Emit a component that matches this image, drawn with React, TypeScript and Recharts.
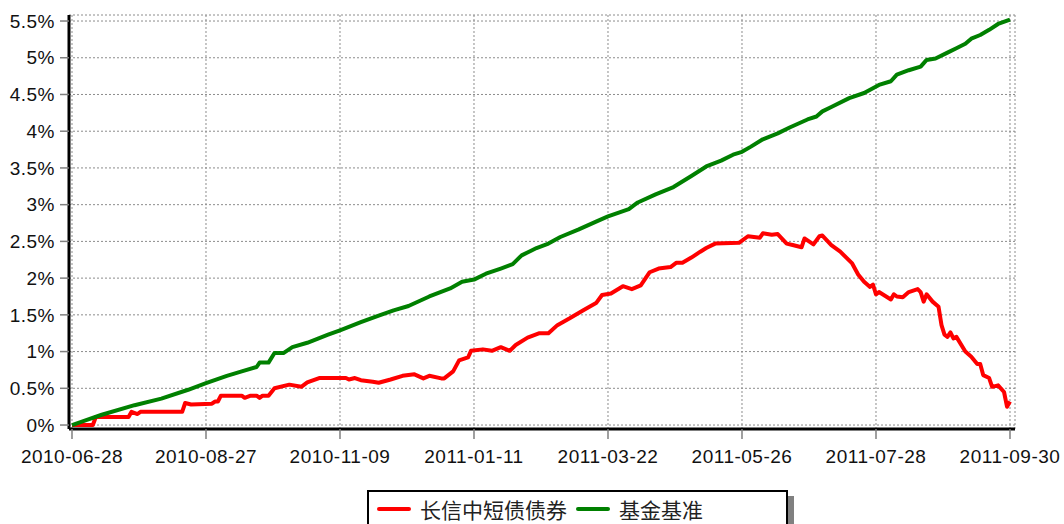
import { LineChart, Line, XAxis, YAxis, CartesianGrid, Legend } from "recharts";

// trading-day index (0 = 2010-06-28, 315 = 2011-09-30)
const dateLabels = [
  "2010-06-28", "2010-08-27", "2010-11-09", "2011-01-11",
  "2011-03-22", "2011-05-26", "2011-07-28", "2011-09-30",
];
const dateTicks = [0, 45, 90, 135, 180, 225, 270, 315];

const yTicks = [0, 0.5, 1, 1.5, 2, 2.5, 3, 3.5, 4, 4.5, 5, 5.5];

const seriesNames = ["长信中短债债券", "基金基准"];

// 长信中短债债券 cumulative return (%)
const fundIdx = [
  0, 7, 8, 19, 20, 22, 23, 37, 38, 40, 47, 48, 49, 50, 57, 58, 60, 62, 63, 64,
  66, 68, 73, 77, 79, 83, 92, 93, 95, 97, 101, 103, 107, 111, 115, 118, 120, 124,
  125, 128, 130, 133, 134, 138, 141, 144, 147, 149, 153, 157, 160, 163, 167, 172,
  176, 178, 181, 185, 188, 191, 194, 197, 201, 203, 205, 208, 211, 213, 216, 224,
  227, 231, 232, 235, 237, 240, 242, 245, 246, 249, 251, 252, 255, 258, 262, 264,
  266, 268, 269, 270, 271, 273, 275, 276, 277, 279, 281, 284, 285, 286, 287, 289,
  291, 292, 293, 294, 295, 296, 297, 300, 302, 304, 305, 306, 308, 309, 311, 313,
  314, 315,
];
const fundValues = [
  0, 0, 0.11, 0.11, 0.18, 0.15, 0.18, 0.18, 0.3, 0.28, 0.29, 0.32, 0.32, 0.4, 0.4, 0.37, 0.4, 0.4, 0.37, 0.4,
  0.4, 0.5, 0.55, 0.52, 0.58, 0.64, 0.64, 0.62, 0.64, 0.61, 0.59, 0.575, 0.62, 0.67, 0.69, 0.635, 0.67, 0.635,
  0.635, 0.73, 0.88, 0.92, 1.01, 1.03, 1.01, 1.06, 1.01, 1.09, 1.19, 1.25, 1.25, 1.36, 1.45, 1.57,
  1.66, 1.77, 1.79, 1.89, 1.85, 1.9, 2.08, 2.13, 2.15, 2.21, 2.21, 2.28, 2.36, 2.41, 2.47, 2.48,
  2.57, 2.55, 2.61, 2.59, 2.6, 2.47, 2.45, 2.42, 2.54, 2.46, 2.57, 2.58, 2.45, 2.36, 2.2, 2.05,
  1.95, 1.88, 1.91, 1.78, 1.81, 1.76, 1.71, 1.78, 1.75, 1.74, 1.81, 1.85, 1.81, 1.68, 1.78, 1.68,
  1.61, 1.36, 1.23, 1.2, 1.26, 1.18, 1.2, 1.0, 0.93, 0.83, 0.83, 0.68, 0.64, 0.52, 0.54, 0.45,
  0.25, 0.32,
];

// 基金基准 cumulative return (%)
const benchIdx = [
  0, 5, 10, 21, 30, 39, 45, 52, 57, 62, 63, 66, 68, 71, 74, 79, 86, 90, 97, 103,
  108, 113, 120, 127, 131, 135, 139, 144, 148, 151, 154, 156, 160, 164, 170, 176, 180, 187, 190, 196,
  202, 208, 213, 218, 222, 225, 228, 232, 237, 241, 247, 250, 252, 255, 261, 266, 271, 275, 277, 281,
  285, 287, 290, 294, 297, 300, 302, 305, 308, 311, 315,
];
const benchValues = [
  0, 0.07, 0.14, 0.27, 0.36, 0.48, 0.57, 0.67, 0.73, 0.79, 0.85, 0.85, 0.98, 0.98, 1.06, 1.12, 1.23, 1.29, 1.4, 1.49,
  1.56, 1.62, 1.75, 1.86, 1.95, 1.98, 2.06, 2.13, 2.19, 2.31, 2.37, 2.41, 2.47, 2.56, 2.66, 2.77, 2.84, 2.94, 3.03, 3.14,
  3.24, 3.39, 3.52, 3.6, 3.68, 3.72, 3.79, 3.89, 3.97, 4.05, 4.16, 4.2, 4.27, 4.33, 4.45, 4.52, 4.63, 4.68, 4.77, 4.83,
  4.88, 4.97, 4.99, 5.07, 5.13, 5.19, 5.26, 5.31, 5.38, 5.46, 5.52,
];

const fundData = fundIdx.map((i, k) => ({ i, v: fundValues[k] }));
const benchData = benchIdx.map((i, k) => ({ i, v: benchValues[k] }));

// minor ticks: 4 subdivisions on x, 5 on y
const xMinor: number[] = [];
for (let k = 0; k < dateTicks.length - 1; k++) {
  const step = (dateTicks[k + 1] - dateTicks[k]) / 4;
  for (let j = 0; j < 4; j++) xMinor.push(dateTicks[k] + step * j);
}
xMinor.push(dateTicks[dateTicks.length - 1]);
const yMinor: number[] = [];
for (let k = 0; k <= 55; k++) yMinor.push(k / 10);

const X_DOMAIN: [number, number] = [-1.007, 316.68];
const Y_DOMAIN: [number, number] = [-0.054, 5.582];

const labelFont = {
  fontFamily: "'Liberation Sans', Arial, sans-serif",
  fontSize: 19,
  letterSpacing: 0.5,
  fill: "#111",
};

const dateOf = (v: number) => dateLabels[dateTicks.indexOf(v)] ?? "";

function LegendBox({ payload }: any) {
  const items = [...(payload ?? [])].sort(
    (a: any, b: any) => seriesNames.indexOf(a.value) - seriesNames.indexOf(b.value)
  );
  return (
    <div
      style={{
        border: "2px solid #000",
        background: "#fff",
        boxShadow: "6px 6px 0 #808080",
        height: 44,
        boxSizing: "border-box",
        display: "flex",
        alignItems: "center",
        paddingLeft: 8,
        paddingBottom: 6,
        fontFamily: "'Noto Sans CJK SC', sans-serif",
        fontSize: 21,
        color: "#222",
      }}
    >
      {items.map((p: any) => (
        <span key={p.value} style={{ display: "flex", alignItems: "center", marginRight: 9 }}>
          <span style={{ display: "inline-block", width: 34, height: 4, borderRadius: 2, background: p.color, marginRight: 9 }} />
          {p.value}
        </span>
      ))}
    </div>
  );
}

export default function App() {
  return (
    <div style={{ position: "absolute", left: 0, top: 0, width: 1064, height: 524, background: "#fff" }}>
      <LineChart width={1064} height={524} margin={{ top: 15, right: 49, left: 0, bottom: 0 }}>
        <CartesianGrid stroke="#8c8c8c" strokeDasharray="2 2" />
        <XAxis
          xAxisId="minor"
          type="number"
          dataKey="i"
          domain={X_DOMAIN}
          allowDataOverflow
          ticks={xMinor}
          interval={0}
          height={0}
          axisLine={false}
          tick={false}
          tickSize={6}
          tickLine={{ stroke: "#808080", strokeWidth: 1.5 }}
        />
        <XAxis
          type="number"
          dataKey="i"
          domain={X_DOMAIN}
          allowDataOverflow
          ticks={dateTicks}
          interval={0}
          height={95}
          tickFormatter={dateOf}
          tick={labelFont}
          tickSize={10}
          tickMargin={11}
          tickLine={{ stroke: "#808080", strokeWidth: 1.5 }}
          axisLine={{ stroke: "#000", strokeWidth: 3 }}
        />
        <YAxis
          yAxisId="minor"
          type="number"
          domain={Y_DOMAIN}
          allowDataOverflow
          ticks={yMinor}
          interval={0}
          width={0}
          axisLine={false}
          tick={false}
          tickSize={5}
          tickLine={{ stroke: "#808080", strokeWidth: 1.5 }}
        />
        <YAxis
          type="number"
          domain={Y_DOMAIN}
          allowDataOverflow
          ticks={yTicks}
          interval={0}
          width={69}
          tickFormatter={(v: number) => `${v}%`}
          tick={labelFont}
          tickSize={9}
          tickMargin={5}
          tickLine={{ stroke: "#808080", strokeWidth: 1.5 }}
          axisLine={{ stroke: "#000", strokeWidth: 3 }}
        />
        <Legend
          layout="horizontal"
          verticalAlign="middle"
          align="center"
          content={<LegendBox />}
          wrapperStyle={{ left: 367, top: 490, width: 421, height: 44 }}
        />
        <Line
          data={fundData}
          dataKey="v"
          name="长信中短债债券"
          type="linear"
          stroke="#ff0000"
          strokeWidth={4}
          dot={false}
          isAnimationActive={false}
          strokeLinejoin="round"
        />
        <Line
          data={benchData}
          dataKey="v"
          name="基金基准"
          type="linear"
          stroke="#008000"
          strokeWidth={4}
          dot={false}
          isAnimationActive={false}
          strokeLinejoin="round"
        />
      </LineChart>
    </div>
  );
}
